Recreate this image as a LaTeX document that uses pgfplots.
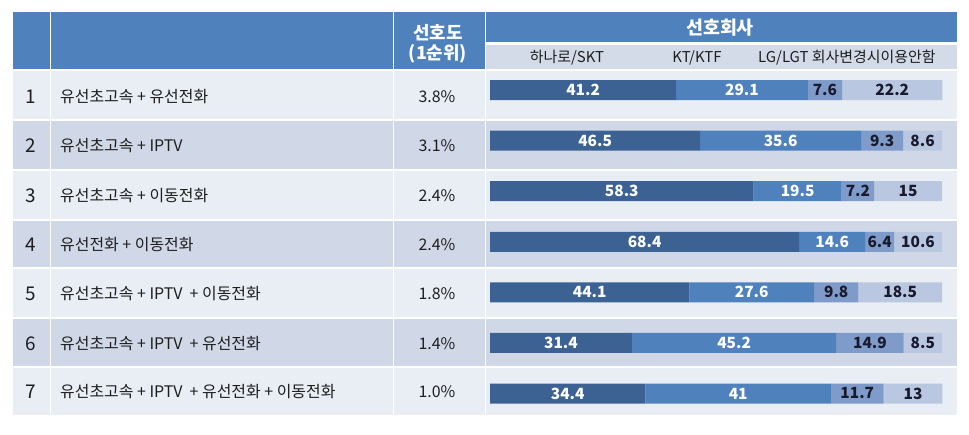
\documentclass[border=0pt]{standalone}
\usepackage{fontspec}
\setmainfont{Noto Sans CJK KR}
\usepackage{pgfplots}
\pgfplotsset{compat=1.18}
\usepackage{pgfplotstable}

\definecolor{hdr}{HTML}{4F81BD}
\definecolor{rowA}{HTML}{E9EDF4}
\definecolor{rowB}{HTML}{D0D8E8}
\definecolor{subh}{HTML}{D3DAE8}
\definecolor{sa}{HTML}{3C6294}
\definecolor{sb}{HTML}{4F81BD}
\definecolor{sc}{HTML}{7F9BC9}
\definecolor{sd}{HTML}{B9C8E0}
\definecolor{dk}{HTML}{1A1A2E}
\definecolor{txt}{HTML}{1E1E1E}

\pgfplotstableread{
r a b c d
1 41.2 29.1 7.6 22.2
2 46.5 35.6 9.3 8.6
3 58.3 19.5 7.2 15
4 68.4 14.6 6.4 10.6
5 44.1 27.6 9.8 18.5
6 31.4 45.2 14.9 8.5
7 34.4 41 11.7 13
}\bars

\begin{document}
\begin{tikzpicture}
\begin{axis}[at={(0,0)}, anchor=south west, scale only axis,
  width=969bp, height=435bp, xmin=0, xmax=969, ymin=0, ymax=435,
  y dir=reverse, hide axis, clip=false]
\addplot[draw=none] coordinates {(0,0)};
\fill[white] (0,0) rectangle (969,435);
% header
\fill[hdr] (13,12) rectangle (957,42);
\fill[hdr] (13,42) rectangle (485,69.5);
\fill[subh] (486,45) rectangle (957,69.5);
% rows
\fill[rowA] (13,71) rectangle (957,119.5);
\fill[rowB] (13,121.5) rectangle (957,169);
\fill[rowA] (13,171) rectangle (957,218.5);
\fill[rowB] (13,220.5) rectangle (957,267);
\fill[rowA] (13,269) rectangle (957,317);
\fill[rowB] (13,319) rectangle (957,366);
\fill[rowA] (13,368) rectangle (957,415);
% vertical separators
\fill[white] (49.5,12) rectangle (51,415);
\fill[white] (392.5,12) rectangle (394,415);
\fill[white] (484.5,12) rectangle (486,415);
% header text
\node[text=white, font=\bfseries\fontsize{18}{20}\selectfont] at (438,33) {선호도};
\node[text=white, font=\bfseries\fontsize{18}{20}\selectfont] at (438,53.5) {(1순위)};
\node[text=white, font=\bfseries\fontsize{18.5}{20}\selectfont] at (720,28) {선호회사};
\node[text=txt, font=\fontsize{15}{17}\selectfont] at (567,57.5) {하나로/SKT};
\node[text=txt, font=\fontsize{15}{17}\selectfont] at (697,57.5) {KT/KTF};
\node[text=txt, font=\fontsize{15}{17}\selectfont, anchor=west, inner sep=0pt] at (758,57.5) {LG/LGT 회사변경시이용안함};
% row numbers
\node[text=txt, font=\fontsize{19}{21}\selectfont] at (31,96.5) {1};
\node[text=txt, font=\fontsize{19}{21}\selectfont] at (31,146) {2};
\node[text=txt, font=\fontsize{19}{21}\selectfont] at (31,195.5) {3};
\node[text=txt, font=\fontsize{19}{21}\selectfont] at (31,244.5) {4};
\node[text=txt, font=\fontsize{19}{21}\selectfont] at (31,294) {5};
\node[text=txt, font=\fontsize{19}{21}\selectfont] at (31,343.5) {6};
\node[text=txt, font=\fontsize{19}{21}\selectfont] at (31,392) {7};
% row labels
\node[text=txt, font=\fontsize{16}{18}\selectfont, anchor=west, inner sep=0pt] at (60,96.5) {유선초고속 + 유선전화};
\node[text=txt, font=\fontsize{16}{18}\selectfont, anchor=west, inner sep=0pt] at (60,146) {유선초고속 + IPTV};
\node[text=txt, font=\fontsize{16}{18}\selectfont, anchor=west, inner sep=0pt] at (60,195.5) {유선초고속 + 이동전화};
\node[text=txt, font=\fontsize{16}{18}\selectfont, anchor=west, inner sep=0pt] at (60,244.5) {유선전화 + 이동전화};
\node[text=txt, font=\fontsize{16}{18}\selectfont, anchor=west, inner sep=0pt] at (60,294) {유선초고속 + IPTV \ + 이동전화};
\node[text=txt, font=\fontsize{16}{18}\selectfont, anchor=west, inner sep=0pt] at (60,343.5) {유선초고속 + IPTV \ + 유선전화};
\node[text=txt, font=\fontsize{16}{18}\selectfont, anchor=west, inner sep=0pt] at (60,392) {유선초고속 + IPTV \ + 유선전화 + 이동전화};
% percentages
\node[text=txt, font=\fontsize{16}{18}\selectfont] at (437,96.5) {3.8\%};
\node[text=txt, font=\fontsize{16}{18}\selectfont] at (437,146) {3.1\%};
\node[text=txt, font=\fontsize{16}{18}\selectfont] at (437,195.5) {2.4\%};
\node[text=txt, font=\fontsize{16}{18}\selectfont] at (437,244.5) {2.4\%};
\node[text=txt, font=\fontsize{16}{18}\selectfont] at (437,294) {1.8\%};
\node[text=txt, font=\fontsize{16}{18}\selectfont] at (437,343.5) {1.4\%};
\node[text=txt, font=\fontsize{16}{18}\selectfont] at (437,392) {1.0\%};
\end{axis}

\begin{axis}[at={(490bp,16.21bp)}, anchor=south west, scale only axis,
  width=452bp, height=354.08bp, xmin=0, xmax=100, ymin=0.5, ymax=7.5,
  y dir=reverse, hide axis, clip=false, xbar stacked, bar width=20bp,
  nodes near coords, point meta=explicit symbolic,
  every node near coord/.append style={font=\bfseries\fontsize{15.5}{17}\selectfont, anchor=center, inner sep=0pt}]
\addplot[fill=sa, draw=none,
  every node near coord/.append style={text=white}]
  table[x=a, y=r, meta=a] {\bars};
\addplot[fill=sb, draw=none,
  every node near coord/.append style={text=white}]
  table[x=b, y=r, meta=b] {\bars};
\addplot[fill=sc, draw=none,
  every node near coord/.append style={text=dk}]
  table[x=c, y=r, meta=c] {\bars};
\addplot[fill=sd, draw=none,
  every node near coord/.append style={text=dk}]
  table[x=d, y=r, meta=d] {\bars};
\end{axis}
\end{tikzpicture}
\end{document}
